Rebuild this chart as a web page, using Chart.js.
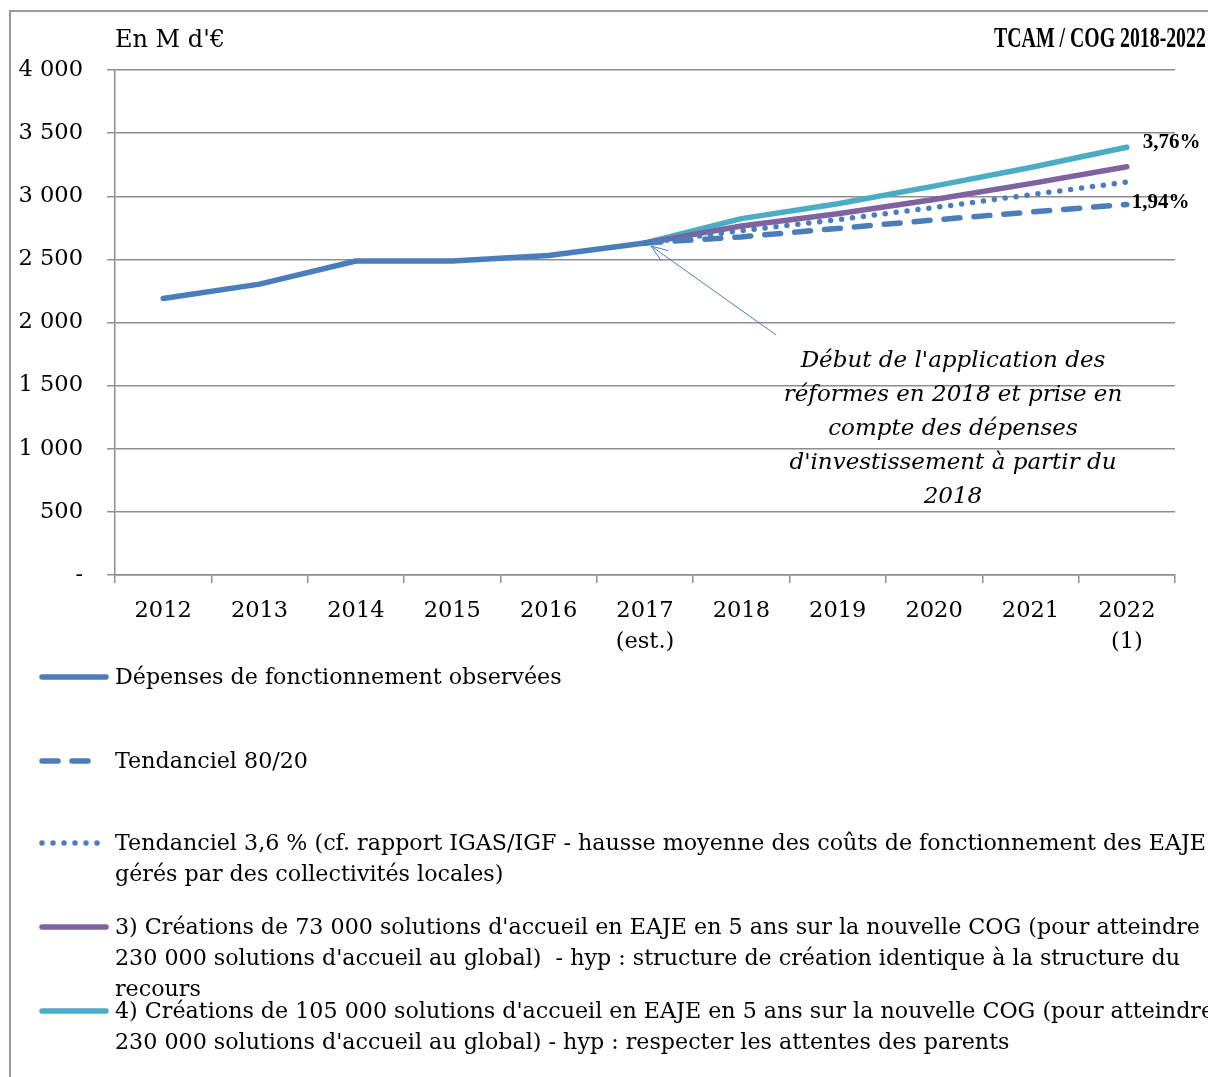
<!DOCTYPE html>
<html>
<head>
<meta charset="utf-8">
<script src="https://cdn.jsdelivr.net/npm/chart.js@4.4.1/dist/chart.umd.min.js"></script>
<style>
  body { margin: 0; background: #fff; }
  #wrap { position: relative; width: 1208px; height: 1077px; overflow: hidden; }
  #frame { position: absolute; left: 9px; top: 10px; width: 1300px; height: 1200px;
           border-left: 2px solid #9a9a9a; border-top: 2px solid #9a9a9a; }
  canvas { position: absolute; left: 0; top: 0; }
  .txt { position: absolute; font-family: "DejaVu Serif", serif; font-size: 22.2px; color: #000; white-space: nowrap; }
  .leg { line-height: 31px; }
  #unit { left: 115px; top: 25px; font-size: 24px; }
  #tcam { right: 2px; top: 20px; font-family: "Liberation Serif", serif; font-weight: bold; font-size: 30px;
          transform: scaleX(0.66); transform-origin: right center; }
  #note { left: 753px; top: 342px; width: 400px; text-align: center; font-style: italic; font-size: 23px; line-height: 34px; }
</style>
</head>
<body>
<div id="wrap">
  <div id="frame"></div>
  <canvas id="c" width="1208" height="1077"></canvas>
  <div class="txt" id="unit">En M d'€</div>
  <div class="txt" id="tcam">TCAM / COG 2018-2022</div>
  <div class="txt" id="note">Début de l'application des<br>réformes en 2018 et prise en<br>compte des dépenses<br>d'investissement à partir du<br>2018</div>
  <div class="txt leg" style="left:115px; top:661px;">Dépenses de fonctionnement observées</div>
  <div class="txt leg" style="left:115px; top:745px;">Tendanciel 80/20</div>
  <div class="txt leg" style="left:115px; top:827px;">Tendanciel 3,6 % (cf. rapport IGAS/IGF - hausse moyenne des coûts de fonctionnement des EAJE<br>gérés par des collectivités locales)</div>
  <div class="txt leg" style="left:115px; top:911px;">3) Créations de 73 000 solutions d'accueil en EAJE en 5 ans sur la nouvelle COG (pour atteindre<br>230 000 solutions d'accueil au global)&nbsp; - hyp : structure de création identique à la structure du<br>recours</div>
  <div class="txt leg" style="left:115px; top:995px;">4) Créations de 105 000 solutions d'accueil en EAJE en 5 ans sur la nouvelle COG (pour atteindre<br>230 000 solutions d'accueil au global) - hyp : respecter les attentes des parents</div>
</div>
<script>
// years on the x axis
var years = ['2012', '2013', '2014', '2015', '2016', ['2017', '(est.)'], '2018', '2019', '2020', '2021', ['2022', '(1)']];

// M€
var observees = [2190, 2304, 2487, 2487, 2531, 2630, null, null, null, null, null];
var tendanciel8020 = [null, null, null, null, null, 2630, 2678, 2745, 2812, 2875, 2935];
var tendanciel36 = [null, null, null, null, null, 2630, 2728, 2815, 2910, 3012, 3112];
var creations73 = [null, null, null, null, null, 2630, 2765, 2862, 2975, 3100, 3233];
var creations105 = [null, null, null, null, null, 2630, 2823, 2940, 3080, 3228, 3388];

var yTicks = [0, 500, 1000, 1500, 2000, 2500, 3000, 3500, 4000];

var blue = '#4a7ebb', purple = '#7f63a1', cyan = '#4bacc6', grid = '#8e8e8e';
var legendY = [677, 761, 843, 927, 1011];
var serif = 'DejaVu Serif';

function fmt(v) {
    if (v === 0) return '-';
    return String(v).replace(/\B(?=(\d{3})+(?!\d))/g, ' ');
}

var extras = {
    id: 'extras',
    afterDatasetsDraw: function(chart) {
        var ctx = chart.ctx;
        var xs = chart.scales.x, ys = chart.scales.y;

        // arrow pointing at the 2017 point
        var px = xs.getPixelForValue(5) + 6, py = ys.getPixelForValue(observees[5]) + 3;
        var tx = px + 125, ty = py + 89;
        ctx.save();
        ctx.strokeStyle = blue;
        ctx.lineWidth = 1;
        ctx.beginPath();
        ctx.moveTo(tx, ty);
        ctx.lineTo(px, py);
        var a = Math.atan2(ty - py, tx - px);
        ctx.moveTo(px + 18 * Math.cos(a - 0.35), py + 18 * Math.sin(a - 0.35));
        ctx.lineTo(px, py);
        ctx.lineTo(px + 18 * Math.cos(a + 0.35), py + 18 * Math.sin(a + 0.35));
        ctx.stroke();

        // TCAM labels
        ctx.fillStyle = '#000';
        ctx.font = 'bold 21px "Liberation Serif"';
        ctx.textBaseline = 'middle';
        ctx.fillText('3,76%', xs.getPixelForValue(10) + 16, ys.getPixelForValue(creations105[10]) - 5);
        ctx.fillText('1,94%', xs.getPixelForValue(10) + 5, ys.getPixelForValue(tendanciel8020[10]) - 2);

        // legend samples
        chart.data.datasets.forEach(function(ds, i) {
            var y = legendY[i];
            ctx.strokeStyle = ds.borderColor;
            ctx.lineWidth = ds.borderWidth;
            ctx.lineCap = 'round';
            ctx.setLineDash(ds.borderDash || []);
            ctx.beginPath();
            ctx.moveTo(42, y);
            ctx.lineTo(ds.borderDash ? 100 : 106, y);
            ctx.stroke();
        });
        ctx.restore();
    }
};

var chart = new Chart(document.getElementById('c'), {
    type: 'line',
    data: {
        labels: years,
        datasets: [
            { label: 'Dépenses de fonctionnement observées', data: observees, borderColor: blue, borderWidth: 5.5 },
            { label: 'Tendanciel 80/20', data: tendanciel8020, borderColor: blue, borderWidth: 5.5, borderDash: [16, 14] },
            { label: 'Tendanciel 3,6 %', data: tendanciel36, borderColor: blue, borderWidth: 5.5, borderDash: [0, 11] },
            { label: '3) Créations de 73 000 solutions', data: creations73, borderColor: purple, borderWidth: 5.5 },
            { label: '4) Créations de 105 000 solutions', data: creations105, borderColor: cyan, borderWidth: 5.5 }
        ].map(function(d) {
            d.pointRadius = 0;
            d.pointHoverRadius = 0;
            d.tension = 0;
            d.fill = false;
            d.borderCapStyle = 'round';
            d.borderJoinStyle = 'round';
            d.spanGaps = false;
            return d;
        })
    },
    options: {
        responsive: false,
        animation: false,
        events: [],
        layout: { padding: { left: 10, top: 70, right: 33, bottom: 422 } },
        plugins: { legend: { display: false }, tooltip: { enabled: false } },
        scales: {
            x: {
                offset: true,
                grid: { drawOnChartArea: false, drawTicks: true, tickLength: 8, color: grid, lineWidth: 1.5, offset: true },
                border: { color: grid, width: 1.5 },
                ticks: { color: '#000', font: { family: serif, size: 22.5, lineHeight: 1.4 }, padding: 12, maxRotation: 0, autoSkip: false },
                afterFit: function(axis) { axis.height = 80; }
            },
            y: {
                min: 0,
                max: 4000,
                afterBuildTicks: function(axis) { axis.ticks = yTicks.map(function(v) { return { value: v }; }); },
                grid: { color: grid, lineWidth: 1.5, tickLength: 8 },
                border: { color: grid, width: 1.5 },
                ticks: { color: '#000', font: { family: serif, size: 22.5 }, padding: 24, callback: fmt },
                afterFit: function(axis) { axis.width = 105; }
            }
        }
    },
    plugins: [extras]
});
</script>
</body>
</html>
